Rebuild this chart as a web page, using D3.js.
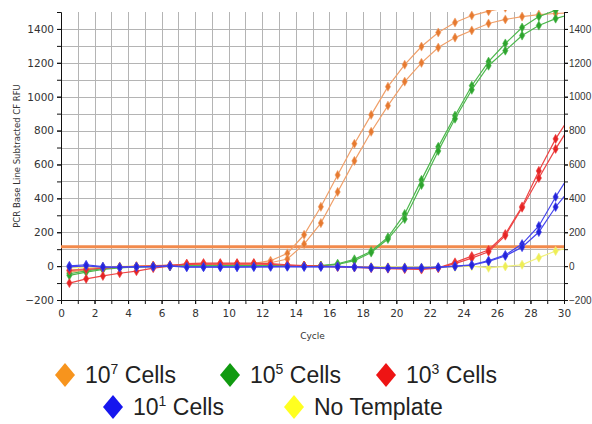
<!DOCTYPE html>
<html>
<head>
<meta charset="utf-8">
<script src="https://cdn.jsdelivr.net/npm/d3@7"></script>
<style>
  body { margin: 0; background: #fff; }
  svg { display: block; }
</style>
</head>
<body>
<svg id="chart" width="592" height="424"></svg>
<script>
// cycle positions of the readings (plotted half a cycle left of the tick)
const cycles = [0.5, 1.5, 2.5, 3.5, 4.5, 5.5, 6.5, 7.5, 8.5, 9.5, 10.5, 11.5, 12.5, 13.5, 14.5, 15.5,
  16.5, 17.5, 18.5, 19.5, 20.5, 21.5, 22.5, 23.5, 24.5, 25.5, 26.5, 27.5, 28.5, 29.5, 30.5];

const cells7a = [-25, -15, -8, -4, 0, 3, 6, 10, 12, 14, 15, 16, 32, 75, 185, 350,
  538, 722, 893, 1059, 1189, 1296, 1379, 1438, 1479, 1505, 1525, 1540, 1550, 1556, 1560];
const cells7b = [-35, -22, -12, -6, -2, 2, 4, 8, 10, 11, 12, 13, 20, 42, 130, 254,
  438, 621, 793, 947, 1089, 1200, 1290, 1349, 1391, 1432, 1456, 1473, 1485, 1491, 1496];
const cells5a = [-45, -28, -15, -8, -4, -2, 0, 2, 2, 3, 3, 3, 3, 3, 3, 3,
  14, 40, 88, 170, 308, 509, 704, 888, 1065, 1207, 1314, 1408, 1473, 1510, 1540];
const cells5b = [-55, -35, -20, -10, -5, -3, -1, 1, 1, 2, 2, 2, 2, 2, 2, 2,
  10, 32, 80, 160, 278, 479, 680, 870, 1041, 1183, 1272, 1361, 1420, 1461, 1490];
const cells3a = [-100, -75, -58, -42, -30, -12, 0, 15, 18, 18, 18, 18, 15, 8, 3, 0,
  -3, -5, -8, -10, -12, -15, -10, 22, 59, 95, 189, 352, 562, 751, 905];
const cells3b = [-25, -20, -12, -6, -2, 2, 5, 10, 12, 12, 12, 12, 10, 5, 2, -2,
  -5, -8, -12, -15, -18, -20, -12, 15, 47, 85, 180, 345, 520, 692, 850];
const cells1a = [2, 8, -3, -6, -3, -2, 2, -5, -5, -5, -5, -4, -3, -2, -3, -3,
  -2, -5, -8, -10, -10, -10, -6, 0, 8, 32, 66, 130, 237, 408, 565];
const cells1b = [-5, 2, -6, -8, -5, -4, 0, -6, -6, -6, -6, -5, -4, -4, -5, -5,
  -4, -7, -10, -12, -12, -12, -8, -2, 5, 28, 60, 112, 201, 349, 470];
const noTemplate = [-10, -6, -4, -2, -1, 0, 0, 0, 0, 0, 0, 0, 0, 0, 0, 0,
  -2, -3, -4, -5, -6, -8, -8, -5, 0, -10, -2, 8, 50, 89, 115];

const threshold = 115;

const xTicks = [0, 2, 4, 6, 8, 10, 12, 14, 16, 18, 20, 22, 24, 26, 28, 30];
const yTicks = [-200, 0, 200, 400, 600, 800, 1000, 1200, 1400];

const legendNames = ["10|7| Cells", "10|5| Cells", "10|3| Cells", "10|1| Cells", "No Template"];
const legendColors = ["#f7941d", "#109a10", "#ee1414", "#1616ee", "#ffff20"];

const series = [
  { values: noTemplate, line: "#f2f27a", dot: "#eeee55" },
  { values: cells7a, line: "#f0a06a", dot: "#e67a30" },
  { values: cells7b, line: "#f0a06a", dot: "#e67a30" },
  { values: cells5a, line: "#4cb84c", dot: "#2ea42e" },
  { values: cells5b, line: "#4cb84c", dot: "#2ea42e" },
  { values: cells3a, line: "#ee4444", dot: "#e42424" },
  { values: cells3b, line: "#ee4444", dot: "#e42424" },
  { values: cells1a, line: "#4444ee", dot: "#2424d8" },
  { values: cells1b, line: "#4444ee", dot: "#2424d8" }
];

const svg = d3.select("#chart");
const plotLeft = 61, plotRight = 564, plotTop = 12, plotBottom = 300;

const x = d3.scaleLinear().domain([0, 30]).range([plotLeft, plotRight]);
const y = d3.scaleLinear().domain([-200, 1500]).range([plotBottom, plotTop]);

// grid
const grid = svg.append("g").attr("stroke", "#b4b4b4").attr("stroke-width", 1);
grid.selectAll(".vx").data(d3.range(1, 30)).enter().append("line")
  .attr("x1", d => Math.round(x(d)) + 0.5).attr("x2", d => Math.round(x(d)) + 0.5)
  .attr("y1", plotTop).attr("y2", plotBottom);
grid.selectAll(".hy").data(d3.range(-100, 1500, 100)).enter().append("line")
  .attr("x1", plotLeft).attr("x2", plotRight)
  .attr("y1", d => Math.round(y(d)) + 0.5).attr("y2", d => Math.round(y(d)) + 0.5);

// axes
const font = "DejaVu Sans, sans-serif";
const fmt = d3.format("d");
function styleAxis(g, size = "10.5px", family = font) {
  g.select(".domain").attr("stroke", "#111");
  g.selectAll(".tick line").attr("stroke", "#111");
  g.selectAll("text").attr("fill", "#333").style("font", size + " " + family);
}
const minorX = d3.range(0, 31);
const minorY = d3.range(-200, 1501, 100);

svg.append("g").attr("transform", `translate(0,${plotBottom})`)
  .call(d3.axisBottom(x).tickValues(minorX).tickFormat("").tickSize(4).tickSizeOuter(0)).call(styleAxis);
svg.append("g").attr("transform", `translate(0,${plotBottom})`)
  .call(d3.axisBottom(x).tickValues(xTicks).tickFormat(fmt).tickSize(4).tickSizeOuter(0).tickPadding(6)).call(styleAxis);

svg.append("g").attr("transform", `translate(${plotLeft},0)`)
  .call(d3.axisLeft(y).tickValues(minorY).tickFormat("").tickSize(4).tickSizeOuter(0)).call(styleAxis);
svg.append("g").attr("transform", `translate(${plotLeft},0)`)
  .call(d3.axisLeft(y).tickValues(yTicks).tickFormat(fmt).tickSize(4).tickSizeOuter(0).tickPadding(3)).call(styleAxis);

svg.append("g").attr("transform", `translate(${plotRight},0)`)
  .call(d3.axisRight(y).tickValues(minorY).tickFormat("").tickSize(4).tickSizeOuter(0)).call(styleAxis);
svg.append("g").attr("transform", `translate(${plotRight},0)`)
  .call(d3.axisRight(y).tickValues(yTicks).tickFormat(fmt).tickSize(4).tickSizeOuter(0).tickPadding(1))
  .call(g => styleAxis(g, "10px", "'Liberation Sans', Arial, sans-serif"));

// axis titles
svg.append("text").attr("x", (plotLeft + plotRight) / 2).attr("y", 339)
  .attr("text-anchor", "middle").attr("fill", "#333")
  .style("font", "9px " + font).text("Cycle");
svg.append("text").attr("transform", `translate(20,${(plotTop + plotBottom) / 2}) rotate(-90)`)
  .attr("text-anchor", "middle").attr("fill", "#333")
  .style("font", "8.5px " + font).text("PCR Base Line Subtracted CF RFU");

// clip
svg.append("clipPath").attr("id", "plot-clip").append("rect")
  .attr("x", plotLeft).attr("y", plotTop - 2).attr("width", plotRight - plotLeft).attr("height", plotBottom - plotTop + 2);

const plot = svg.append("g").attr("clip-path", "url(#plot-clip)");

// threshold
plot.append("line").attr("x1", plotLeft).attr("x2", plotRight)
  .attr("y1", y(threshold)).attr("y2", y(threshold))
  .attr("stroke", "#f28a4c").attr("stroke-width", 3);

const line = d3.line().x((d, i) => x(cycles[i])).y(d => y(d));
const diamond = d3.symbol().type(d3.symbolDiamond).size(24);

series.forEach(s => {
  plot.append("path").datum(s.values)
    .attr("fill", "none").attr("stroke", s.line).attr("stroke-width", 1.2)
    .attr("d", line);
  plot.selectAll(null).data(s.values).enter().append("path")
    .attr("d", diamond)
    .attr("transform", (d, i) => `translate(${x(cycles[i])},${y(d)})`)
    .attr("fill", s.dot).attr("stroke", s.line).attr("stroke-width", 1).attr("stroke-opacity", 0.6);
});

// legend
const legendPos = [[65, 375], [230, 375], [386, 375], [113, 407], [294, 407]];
const bigDiamond = "M0,-12L10,0L0,12L-10,0Z";
legendNames.forEach((name, i) => {
  const [cx, cy] = legendPos[i];
  const g = svg.append("g");
  g.append("path").attr("d", bigDiamond).attr("transform", `translate(${cx},${cy})`)
    .attr("fill", legendColors[i]);
  const t = g.append("text").attr("x", cx + 20).attr("y", cy + 8)
    .attr("fill", "#222").style("font", "23px 'Liberation Sans', Arial, sans-serif");
  const parts = name.split("|");
  if (parts.length === 3) {
    t.append("tspan").text(parts[0]);
    t.append("tspan").attr("dy", -9).style("font-size", "14px").text(parts[1]);
    t.append("tspan").attr("dy", 9).text(parts[2]);
  } else {
    t.text(name);
  }
});
</script>
</body>
</html>
